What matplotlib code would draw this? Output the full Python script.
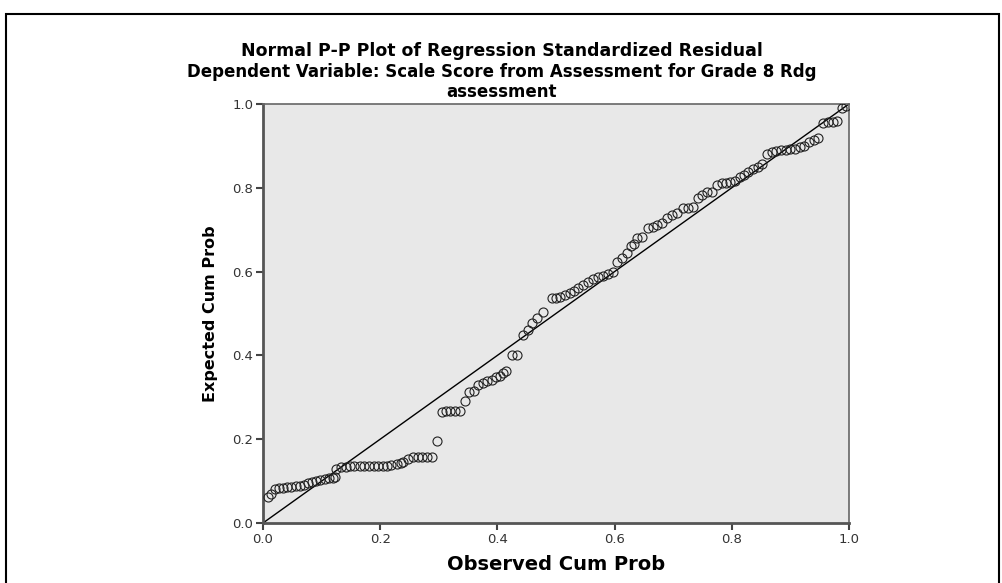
import matplotlib
matplotlib.use("Agg")
import matplotlib.pyplot as plt
from matplotlib.patches import Rectangle

# observed / expected cumulative probabilities
observed = [0.008, 0.014, 0.020, 0.027, 0.034, 0.041, 0.048, 0.056, 0.063, 0.070,
            0.077, 0.084, 0.091, 0.098, 0.105, 0.112, 0.119, 0.123,
            0.125, 0.133, 0.141, 0.148, 0.156, 0.165, 0.173, 0.181, 0.189, 0.197,
            0.204, 0.211, 0.219, 0.228, 0.236, 0.239,
            0.248, 0.256, 0.264, 0.272, 0.280, 0.289,
            0.297,
            0.305, 0.313, 0.320, 0.328, 0.336,
            0.345,
            0.352, 0.360, 0.367, 0.375, 0.382, 0.390, 0.397, 0.404, 0.410, 0.415,
            0.425, 0.433,
            0.444, 0.452, 0.459, 0.468, 0.478,
            0.493, 0.500, 0.507, 0.515, 0.524, 0.530, 0.538,
            0.546, 0.555, 0.563, 0.572, 0.580, 0.589, 0.597,
            0.604, 0.612, 0.621, 0.628, 0.634,
            0.638, 0.647, 0.657, 0.666, 0.672, 0.681, 0.689, 0.698, 0.706, 0.717,
            0.725, 0.734, 0.742, 0.749, 0.758, 0.766, 0.775, 0.783, 0.790, 0.797,
            0.805, 0.814, 0.821, 0.828,
            0.836, 0.844, 0.852, 0.860, 0.868, 0.876, 0.884, 0.892, 0.900, 0.908,
            0.916, 0.924, 0.932, 0.940, 0.948, 0.956, 0.964, 0.972, 0.980, 0.988, 0.995]

expected = [0.063, 0.070, 0.080, 0.084, 0.084, 0.085, 0.087, 0.088, 0.089, 0.091,
            0.095, 0.097, 0.100, 0.103, 0.106, 0.108, 0.108, 0.111,
            0.130, 0.133, 0.133, 0.135, 0.135, 0.135, 0.135, 0.135, 0.135, 0.136,
            0.136, 0.137, 0.138, 0.140, 0.144, 0.146,
            0.152, 0.157, 0.157, 0.157, 0.157, 0.157,
            0.196,
            0.265, 0.268, 0.268, 0.268, 0.268,
            0.290,
            0.313, 0.315, 0.330, 0.334, 0.339, 0.342, 0.348, 0.352, 0.358, 0.363,
            0.400, 0.400,
            0.449, 0.460, 0.477, 0.490, 0.503,
            0.537, 0.537, 0.540, 0.545, 0.550, 0.553, 0.560,
            0.567, 0.575, 0.583, 0.587, 0.590, 0.595, 0.600,
            0.623, 0.633, 0.645, 0.660, 0.665,
            0.680, 0.683, 0.704, 0.706, 0.711, 0.716, 0.728, 0.735, 0.740, 0.752,
            0.752, 0.754, 0.776, 0.783, 0.790, 0.790, 0.807, 0.811, 0.811, 0.814,
            0.816, 0.826, 0.831, 0.838,
            0.845, 0.850, 0.858, 0.880, 0.885, 0.888, 0.890, 0.890, 0.892, 0.893,
            0.898, 0.900, 0.910, 0.915, 0.920, 0.955, 0.956, 0.956, 0.960, 0.990, 0.995]

ticks = [0.0, 0.2, 0.4, 0.6, 0.8, 1.0]
tick_labels = ["0.0", "0.2", "0.4", "0.6", "0.8", "1.0"]

title1 = "Normal P-P Plot of Regression Standardized Residual"
title2 = "Dependent Variable: Scale Score from Assessment for Grade 8 Rdg"
title3 = "assessment"

fig = plt.figure(figsize=(10.03, 5.83), dpi=100)

# outer frame like the SPSS output window
fig.patches.append(Rectangle((0.006, -0.05), 0.99, 1.026, transform=fig.transFigure,
                             fill=False, edgecolor="black", linewidth=1.5))

ax = fig.add_axes([0.2622, 0.1029, 0.5842, 0.7187])
ax.set_facecolor("#e8e8e8")

# diagonal reference line
ax.plot([0, 1], [0, 1], color="black", linewidth=1.0, zorder=2)
ax.plot(observed, expected, linestyle="none", marker="o", markersize=6.5,
        markerfacecolor="none", markeredgecolor="#222222", markeredgewidth=0.8, zorder=3)

ax.set_xlim(0, 1)
ax.set_ylim(0, 1)
ax.set_xticks(ticks)
ax.set_xticklabels(tick_labels)
ax.set_yticks(ticks)
ax.set_yticklabels(tick_labels)
ax.tick_params(direction="out", length=5, width=1.5, color="#444444",
               labelsize=9.5, labelcolor="#333333", pad=2)

for side in ["left", "bottom"]:
    ax.spines[side].set_linewidth(2.0)
    ax.spines[side].set_color("#555555")
for side in ["top", "right"]:
    ax.spines[side].set_linewidth(1.2)
    ax.spines[side].set_color("#666666")

ax.set_xlabel("Observed Cum Prob", fontsize=14, fontweight="bold", va="center")
ax.xaxis.set_label_coords(0.5, -0.1)
ax.set_ylabel("Expected Cum Prob", fontsize=11.5, fontweight="bold", labelpad=10)

fig.text(0.5, 1 - 56 / 583, title1, ha="center", va="baseline", fontsize=12.5,
         fontweight="bold")
fig.text(0.5, 1 - 77 / 583, title2, ha="center", va="baseline", fontsize=12,
         fontweight="bold")
fig.text(0.5, 1 - 97 / 583, title3, ha="center", va="baseline", fontsize=12,
         fontweight="bold")

plt.savefig("out.png", dpi=100)
